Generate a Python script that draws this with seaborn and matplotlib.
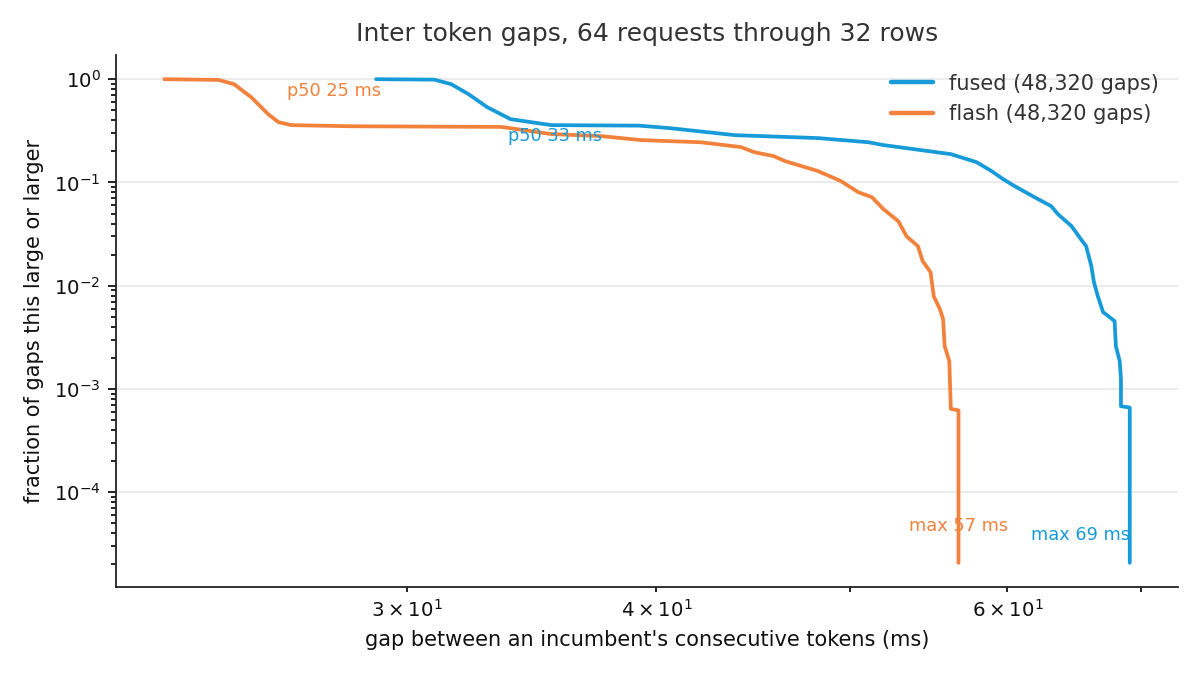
import numpy as np
import pandas as pd
import matplotlib
matplotlib.use("Agg")
import matplotlib.pyplot as plt
import seaborn as sns

# ---- data (survival curve: fraction of gaps >= x) ----
fused_gap_ms = [28.94, 30.95, 31.56, 32.2, 32.9, 33.8, 35.43, 39.2, 40.6, 43.8, 48.2,
                51.1, 52.0, 56.2, 57.9, 58.9, 59.7, 60.5, 61.9, 63.1, 63.6, 64.6, 65.3,
                65.7, 66.1, 66.3, 66.6, 67.0, 67.4, 67.9, 68.0, 68.3, 68.4, 68.4, 69.1, 69.1]
fused_frac = [1.0, 0.99, 0.895, 0.716, 0.536, 0.41, 0.359, 0.355, 0.336, 0.287, 0.269,
              0.245, 0.23, 0.188, 0.157, 0.129, 0.1076, 0.092, 0.072, 0.059, 0.0493, 0.0378,
              0.0283, 0.0242, 0.0155, 0.0108, 0.0079, 0.00555, 0.00508, 0.00454, 0.0026,
              0.00186, 0.00125, 0.00068, 0.00066, 2.07e-5]

flash_gap_ms = [22.66, 23.52, 24.12, 24.56, 25.05, 25.55, 25.85, 26.24, 28.12, 33.44,
                35.43, 37.53, 39.3, 42.1, 44.1, 44.8, 45.8, 46.4, 48.2, 49.5, 50.5, 51.3,
                52.0, 52.9, 53.4, 54.1, 54.4, 54.9, 55.1, 55.5, 55.7, 55.8, 56.1, 56.2,
                56.7, 56.7]
flash_frac = [1.0, 0.99, 0.985, 0.895, 0.67, 0.458, 0.384, 0.359, 0.35, 0.345,
              0.294, 0.281, 0.257, 0.245, 0.22, 0.196, 0.18, 0.161, 0.129, 0.103, 0.0805,
              0.072, 0.055, 0.042, 0.030, 0.0242, 0.0173, 0.0135, 0.0079, 0.0059, 0.00475,
              0.0026, 0.00186, 0.00064, 0.00062, 2.07e-5]

series_names = ["fused (48,320 gaps)", "flash (48,320 gaps)"]
p50_ms = [33, 25]
max_ms = [69, 57]

BLUE = "#169bd8"
ORANGE = "#f2813b"

df = pd.concat([
    pd.DataFrame({"gap": fused_gap_ms, "frac": fused_frac, "series": series_names[0]}),
    pd.DataFrame({"gap": flash_gap_ms, "frac": flash_frac, "series": series_names[1]}),
], ignore_index=True)

sns.set_theme(style="ticks")
plt.rcParams["font.family"] = ["DejaVu Sans"]

fig, ax = plt.subplots(figsize=(12, 6.75), dpi=100)
fig.subplots_adjust(left=0.0967, right=0.9817, top=0.9185, bottom=0.1304)

sns.lineplot(data=df, x="gap", y="frac", hue="series", sort=False, estimator=None,
             palette=[BLUE, ORANGE], linewidth=2.7, ax=ax)

ax.set_xscale("log")
ax.set_yscale("log")
ax.grid(axis="y", which="major", color="#e8e8e8", linewidth=1.2)
ax.set_axisbelow(True)
sns.despine(ax=ax)
for s in ("left", "bottom"):
    ax.spines[s].set_linewidth(1.3)
    ax.spines[s].set_color("#222222")

ax.set_title("Inter token gaps, 64 requests through 32 rows", fontsize=18, color="#333333", pad=10)
ax.set_xlabel("gap between an incumbent's consecutive tokens (ms)", fontsize=15,
              color="#111111", labelpad=7)
ax.set_ylabel("fraction of gaps this large or larger", fontsize=15, color="#111111", labelpad=7)
ax.tick_params(axis="both", which="both", labelsize=14.25, colors="#111111", width=1.3)
ax.tick_params(axis="both", which="major", length=6, pad=5)
ax.tick_params(axis="both", which="minor", length=3.5, pad=5)

leg = ax.legend(loc="upper right", frameon=False, fontsize=15, handlelength=2.0)
for t in leg.get_texts():
    t.set_color("#333333")
for h in leg.get_lines():
    h.set_linewidth(3.2)

# annotations
ax.text(26.1, 0.765, f"p50 {p50_ms[1]} ms", color=ORANGE, fontsize=12.75, ha="left", va="center")
ax.text(33.7, 0.28, f"p50 {p50_ms[0]} ms", color=BLUE, fontsize=12.75, ha="left", va="center")
ax.text(56.7, 4.7e-5, f"max {max_ms[1]} ms", color=ORANGE, fontsize=12.75, ha="center", va="center")
ax.text(65.3, 3.85e-5, f"max {max_ms[0]} ms", color=BLUE, fontsize=12.75, ha="center", va="center")

fig.savefig("out.png", dpi=100)
